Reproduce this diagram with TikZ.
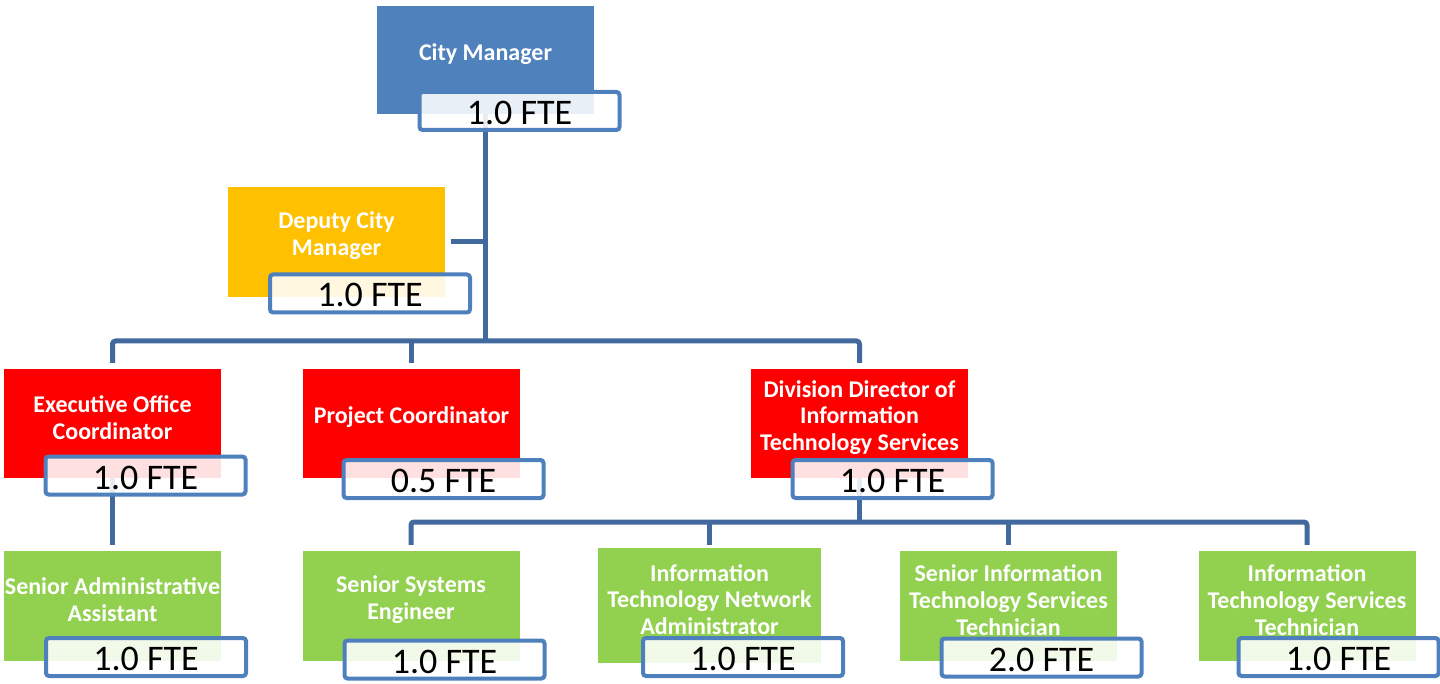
\documentclass[tikz,border=0pt]{standalone}
\usepackage{fontspec}
\setmainfont{Carlito}
\usetikzlibrary{backgrounds}
\definecolor{cmblue}{HTML}{4F81BD}
\definecolor{deputygold}{HTML}{FFC000}
\definecolor{mgrred}{HTML}{FF0000}
\definecolor{staffgreen}{HTML}{92D050}
\definecolor{wire}{HTML}{41699E}
\definecolor{fteedge}{HTML}{4F80BE}
\begin{document}
\begin{tikzpicture}[x=1pt,y=-1pt,
  post/.style={rectangle, inner sep=0pt, minimum width=217pt, minimum height=110pt},
  title/.style={inner sep=0pt, align=center, text=white,
    font=\bfseries\fontsize{24}{26.8}\selectfont},
  fte/.style={rectangle, draw=fteedge, line width=4pt, rounded corners=3pt,
    fill=white, fill opacity=0.88, text opacity=1, text=black,
    minimum width=200pt, minimum height=38pt, inner sep=0pt,
    text height=27pt, text depth=0pt,
    font=\fontsize{36}{40}\selectfont},
  conn/.style={draw=wire, line width=5pt, line join=round, rounded corners=3pt}]
\useasboundingbox (0,0) rectangle (1440,684);

% position boxes
\node[post, fill=cmblue, minimum height=108pt] (cm) at (485.5,60) {};
\node[post, fill=deputygold] (dcm) at (336.5,242) {};
\node[post, fill=mgrred, minimum height=109pt] (eoc) at (112.5,423.5) {};
\node[post, fill=mgrred, minimum height=109pt] (pc) at (411.5,423.5) {};
\node[post, fill=mgrred, minimum height=109pt] (ddit) at (859.5,423.5) {};
\node[post, fill=staffgreen] (saa) at (112.5,606) {};
\node[post, fill=staffgreen] (sse) at (411,606) {};
\node[post, fill=staffgreen, minimum width=223pt, minimum height=115pt] (itna) at (709.5,605.5) {};
\node[post, fill=staffgreen] (sitst) at (1008.5,606) {};
\node[post, fill=staffgreen] (itst) at (1307,606) {};

% titles
\node[title] (cmT) at ([yshift=6pt]cm.center) {City Manager};
\node[title] (dcmT) at ([yshift=6pt]dcm.center) {Deputy City\\Manager};
\node[title] (eocT) at ([yshift=6pt]eoc.center) {Executive Office\\Coordinator};
\node[title] (pcT) at ([yshift=6pt]pc.center) {Project Coordinator};
\node[title] (dditT) at ([yshift=6pt]ddit.center) {Division Director of\\Information\\Technology Services};
\node[title] (saaT) at ([yshift=6pt]saa.center) {Senior Administrative\\Assistant};
\node[title] (sseT) at ([yshift=6pt]sse.center) {Senior Systems\\Engineer};
\node[title] (itnaT) at ([yshift=6pt]itna.center) {Information\\Technology Network\\Administrator};
\node[title] (sitstT) at ([yshift=6pt]sitst.center) {Senior Information\\Technology Services\\Technician};
\node[title] (itstT) at ([yshift=6pt]itst.center) {Information\\Technology Services\\Technician};

% staffing labels
\node[fte] (cmF) at (519.5,111) {1.0 FTE};
\node[fte] (dcmF) at (370,293.5) {1.0 FTE};
\node[fte] (eocF) at (145.5,475.5) {1.0 FTE};
\node[fte] (pcF) at (443.5,479) {0.5 FTE};
\node[fte] (dditF) at (892.5,479) {1.0 FTE};
\node[fte] (saaF) at (146,657) {1.0 FTE};
\node[fte] (sseF) at (444.5,659.5) {1.0 FTE};
\node[fte] (itnaF) at (743,657) {1.0 FTE};
\node[fte] (sitstF) at (1041.5,657.5) {2.0 FTE};
\node[fte] (itstF) at (1338.5,657) {1.0 FTE};

% reporting lines, kept beneath the boxes
\coordinate (busA) at (cm.center |- 0,341);
\coordinate (busB) at (ddit.center |- 0,522);
\begin{pgfonlayer}{background}
\draw[conn] (cm.center) -- (busA);
\draw[conn] ([xshift=6pt]dcm.east) -- (dcm.east -| cm.center);
\draw[conn] ([yshift=6pt]eoc.north) |- (busA) -| ([yshift=6pt]ddit.north);
\draw[conn] ([yshift=6pt]pc.north) -- (pc.north |- busA);
\draw[conn] (eoc.center) -- ([yshift=6pt]saa.north);
\draw[conn] (ddit.center) -- (busB);
\draw[conn] ([yshift=6pt]sse.north) |- (busB) -| ([yshift=6pt]itst.north);
\draw[conn] ([yshift=3pt]itna.north) -- (itna.north |- busB);
\draw[conn] ([yshift=6pt]sitst.north) -- (sitst.north |- busB);
\end{pgfonlayer}
\end{tikzpicture}
\end{document}
